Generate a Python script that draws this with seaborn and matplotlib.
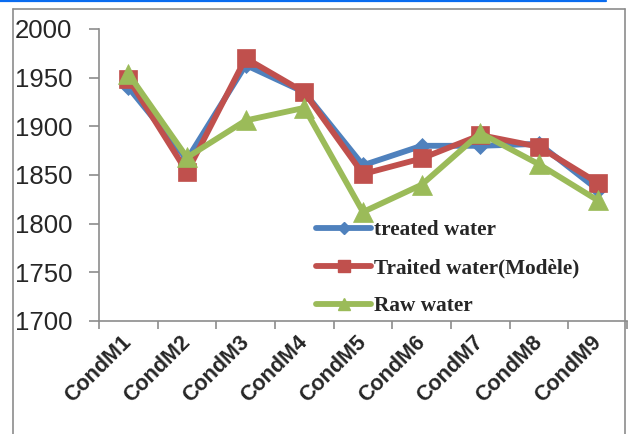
import matplotlib
matplotlib.use("Agg")
import matplotlib.pyplot as plt
from matplotlib.lines import Line2D
from matplotlib.transforms import ScaledTranslation
import seaborn as sns
import pandas as pd

# Conductivity per measurement point
categories = ["CondM1", "CondM2", "CondM3", "CondM4", "CondM5",
              "CondM6", "CondM7", "CondM8", "CondM9"]
treated = [1940, 1866, 1963, 1935, 1860, 1880, 1880, 1882, 1835]
treated_model = [1949, 1853, 1970, 1935, 1851, 1867, 1891, 1879, 1842]
raw = [1954, 1868, 1906, 1919, 1812, 1840, 1893, 1861, 1824]

series_names = ["treated water", "Traited water(Modèle)", "Raw water"]
series_values = [treated, treated_model, raw]
colors = ["#4F81BD", "#C0504D", "#9BBB59"]
markers = ["D", "s", "^"]
marker_sizes = [8, 13, 15]
legend_marker_sizes = [6, 9, 9]

y_ticks = [1700, 1750, 1800, 1850, 1900, 1950, 2000]

sns.set_theme(style="white")
plt.rcParams["font.family"] = ["Liberation Sans", "DejaVu Sans"]

fig = plt.figure(figsize=(6.29, 4.34), dpi=100)
ax = fig.add_axes([99 / 629, 1 - 321 / 434, 528 / 629, 292 / 434])

for name, vals, col, mk, ms in zip(series_names, series_values, colors, markers, marker_sizes):
    df = pd.DataFrame({"cond": categories, "value": vals})
    sns.lineplot(data=df, x="cond", y="value", ax=ax, color=col, linewidth=4.2,
                 marker=mk, markersize=ms, markeredgecolor=col, markeredgewidth=0.5,
                 label=name, sort=False)

ax.set_xlim(-0.5, len(categories) - 0.5)
ax.set_ylim(y_ticks[0], y_ticks[-1])
ax.set_xlabel("")
ax.set_ylabel("")

axis_grey = "#8C8C8C"
for side in ["top", "right"]:
    ax.spines[side].set_visible(False)
for side in ["left", "bottom"]:
    ax.spines[side].set_color(axis_grey)
    ax.spines[side].set_linewidth(1.2)

ax.set_yticks(y_ticks)
ax.set_yticklabels([str(t) for t in y_ticks], fontsize=18.5)
ax.tick_params(axis="y", direction="out", length=7, width=1.2, color=axis_grey, pad=12, left=True)

ax.set_xticks(range(len(categories)))
ax.set_xticklabels(categories, fontsize=15.5, fontweight="bold", rotation=45,
                   ha="right", va="center", rotation_mode="anchor")
shift = ScaledTranslation(3 / 100, 0, fig.dpi_scale_trans)
for lbl in ax.get_xticklabels():
    lbl.set_transform(lbl.get_transform() + shift)
ax.set_xticks([i - 0.5 for i in range(len(categories) + 1)], minor=True)
ax.tick_params(axis="x", which="major", length=0, pad=13)
ax.tick_params(axis="x", which="minor", direction="out", length=6, width=1.2,
               color=axis_grey, bottom=True)

handles = [Line2D([], [], color=c, linewidth=4.2, marker=m, markersize=s,
                  markeredgecolor=c) for c, m, s in zip(colors, markers, legend_marker_sizes)]
ax.legend(handles, series_names, loc="upper left", bbox_to_anchor=(0.395, 0.375),
          frameon=False, handlelength=2.6, handletextpad=0.15, labelspacing=0.85,
          borderaxespad=0,
          prop={"family": "Liberation Serif", "weight": "bold", "size": 15.3})

# Outer chart frame and the page rule above it
frame_kw = dict(color=axis_grey, linewidth=1.2, transform=fig.transFigure)
fig.add_artist(Line2D([13 / 629, 13 / 629], [0, 1 - 9 / 434], **frame_kw))
fig.add_artist(Line2D([13 / 629, 625 / 629], [1 - 9 / 434, 1 - 9 / 434], **frame_kw))
fig.add_artist(Line2D([625 / 629, 625 / 629], [0, 1 - 9 / 434], **frame_kw))
fig.add_artist(Line2D([0, 606 / 629], [1 - 1 / 434, 1 - 1 / 434], color="#0A6CF0",
                      linewidth=1.6, transform=fig.transFigure))

fig.savefig("out.png", dpi=100)
